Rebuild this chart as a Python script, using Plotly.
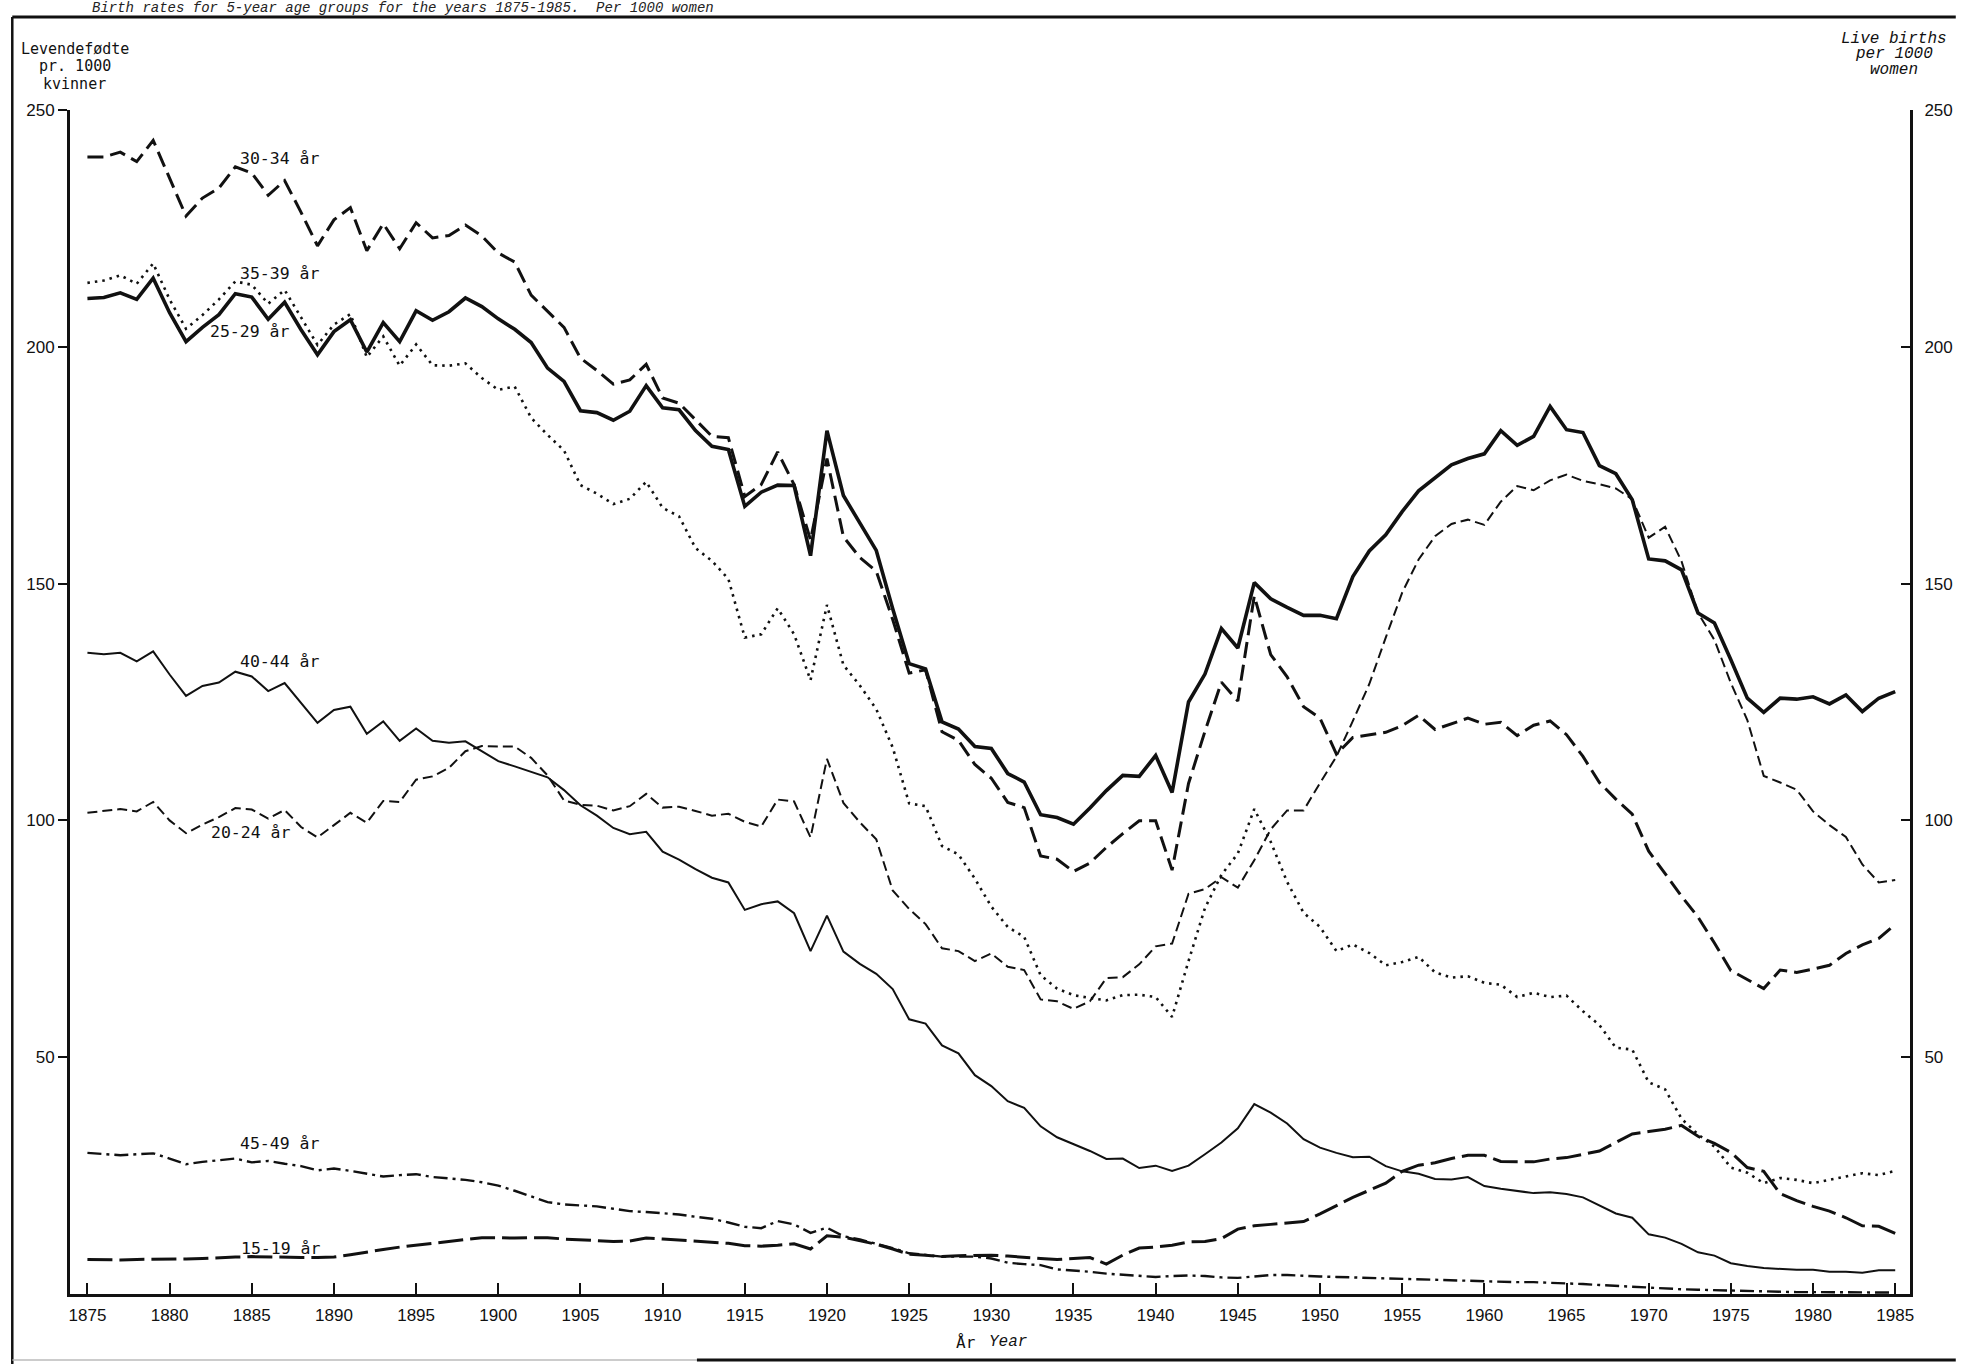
import plotly.graph_objects as go

years = list(range(1875, 1986))

age_25_29 = [210.2, 210.4, 211.4, 210.0, 214.5, 207.2, 201.1, 204.1, 206.8, 211.2,
             210.5, 205.8, 209.4, 203.6, 198.3, 203.2, 205.7, 198.9, 205.1, 201.1,
             207.6, 205.6, 207.4, 210.3, 208.5, 205.9, 203.7, 200.9, 195.5, 192.7,
             186.5, 186.1, 184.5, 186.4, 191.8, 187.1, 186.7, 182.3, 179.0, 178.3,
             166.3, 169.3, 170.8, 170.7, 155.9, 182.3, 168.6, 162.8, 157.0, 144.7,
             133.1, 132.0, 120.8, 119.3, 115.6, 115.2, 109.9, 108.1, 101.2, 100.6,
             99.2, 102.6, 106.3, 109.5, 109.3, 113.7, 105.9, 125.0, 130.9, 140.5,
             136.4, 150.2, 146.8, 145.0, 143.3, 143.3, 142.6, 151.5, 156.9, 160.3,
             165.2, 169.6, 172.3, 175.1, 176.4, 177.4, 182.3, 179.2, 181.1, 187.4,
             182.5, 181.9, 174.9, 173.2, 167.7, 155.2, 154.8, 152.9, 143.8, 141.7,
             133.9, 125.8, 122.8, 125.8, 125.6, 126.1, 124.6, 126.5, 123.0, 125.8,
             127.2]

age_30_34 = [240.1, 240.1, 241.1, 239.1, 243.6, 235.5, 227.6, 231.4, 233.5, 238.0,
             236.7, 232.0, 235.1, 228.4, 221.3, 226.8, 229.4, 220.3, 226.0, 220.7,
             226.2, 223.0, 223.5, 225.7, 223.4, 219.8, 217.9, 210.9, 207.5, 204.1,
             197.6, 195.0, 192.1, 193.0, 196.3, 189.2, 188.1, 184.6, 181.1, 180.8,
             168.4, 170.9, 177.8, 170.9, 159.2, 176.4, 159.9, 155.5, 152.6, 142.4,
             131.1, 131.8, 118.7, 116.9, 111.8, 108.9, 103.8, 102.7, 92.5, 91.8,
             89.2, 91.0, 94.3, 97.2, 99.9, 99.9, 89.5, 107.8, 118.8, 129.2,
             125.2, 147.4, 135.0, 130.3, 124.0, 121.6, 114.0, 117.5, 118.0, 118.6,
             120.0, 122.2, 119.2, 120.4, 121.6, 120.3, 120.7, 117.9, 120.1, 121.0,
             118.1, 113.5, 108.0, 104.5, 101.3, 93.5, 88.8, 84.0, 79.6, 74.1,
             68.3, 66.4, 64.5, 68.4, 67.9, 68.6, 69.4, 71.9, 73.7, 75.1,
             78.0]

age_35_39 = [213.5, 214.0, 215.1, 213.3, 217.6, 210.0, 203.8, 206.7, 210.0, 213.8,
             213.1, 209.1, 212.0, 206.2, 200.4, 204.7, 206.9, 197.8, 202.2, 196.0,
             200.5, 196.1, 196.0, 196.5, 193.4, 190.9, 191.6, 185.0, 181.4, 178.1,
             170.8, 169.0, 166.8, 167.9, 171.5, 166.0, 164.2, 157.5, 154.8, 151.0,
             138.6, 139.3, 144.8, 139.3, 129.6, 145.5, 132.8, 128.5, 123.5, 115.4,
             103.6, 103.0, 94.6, 92.8, 87.7, 81.8, 77.5, 75.4, 67.3, 64.5,
             63.1, 62.5, 62.0, 63.1, 63.2, 62.7, 58.5, 70.3, 81.5, 88.5,
             93.0, 102.4, 95.5, 87.0, 80.5, 77.5, 72.4, 73.8, 72.0, 69.4,
             70.1, 71.2, 67.9, 66.8, 67.1, 65.7, 65.3, 62.7, 63.6, 62.7,
             63.0, 59.7, 56.8, 52.0, 51.6, 44.7, 43.2, 37.0, 33.7, 31.1,
             26.7, 25.6, 23.4, 24.5, 24.1, 23.4, 24.1, 24.8, 25.5, 25.1,
             26.0]

age_40_44 = [135.4, 135.1, 135.4, 133.6, 135.7, 130.8, 126.3, 128.4, 129.1, 131.4,
             130.4, 127.3, 129.0, 124.7, 120.6, 123.3, 124.0, 118.3, 120.9, 116.8,
             119.4, 116.8, 116.4, 116.7, 114.6, 112.5, 111.4, 110.3, 109.1, 106.4,
             103.2, 101.0, 98.4, 97.1, 97.6, 93.4, 91.7, 89.7, 87.9, 86.9,
             81.1, 82.3, 82.9, 80.4, 72.4, 79.9, 72.3, 69.7, 67.6, 64.4,
             58.0, 57.1, 52.5, 50.8, 46.2, 43.9, 40.7, 39.3, 35.4, 33.1,
             31.7, 30.2, 28.5, 28.6, 26.6, 27.1, 26.0, 27.1, 29.5, 32.0,
             35.0, 40.1, 38.3, 36.0, 32.7, 30.9, 29.8, 28.9, 29.0, 27.0,
             25.9, 25.4, 24.3, 24.2, 24.7, 22.8, 22.2, 21.7, 21.3, 21.5,
             21.1, 20.4, 18.7, 17.0, 16.1, 12.6, 11.9, 10.6, 8.8, 8.1,
             6.5, 5.9, 5.5, 5.3, 5.1, 5.1, 4.7, 4.7, 4.5, 5.0,
             5.0]

age_20_24 = [101.6, 102.0, 102.4, 101.9, 103.9, 100.0, 97.3, 99.1, 100.7, 102.6,
             102.3, 100.4, 102.2, 98.6, 96.4, 99.0, 101.6, 99.5, 104.1, 103.9,
             108.6, 109.3, 111.1, 114.6, 115.7, 115.6, 115.6, 113.2, 109.5, 104.2,
             103.3, 103.1, 102.1, 103.0, 105.6, 102.7, 102.9, 102.0, 101.0, 101.4,
             99.7, 98.7, 104.4, 104.0, 96.4, 113.0, 103.7, 99.6, 96.0, 85.2,
             81.3, 78.1, 73.0, 72.4, 70.3, 71.9, 69.1, 68.4, 62.2, 61.8,
             60.2, 61.8, 66.7, 66.9, 69.6, 73.4, 74.0, 84.5, 85.5, 88.0,
             85.8, 91.6, 98.1, 102.1, 102.1, 107.9, 113.5, 121.0, 128.8, 138.6,
             148.1, 155.1, 160.0, 162.6, 163.5, 162.4, 167.3, 170.6, 169.7, 171.8,
             173.0, 171.7, 171.0, 170.1, 167.8, 159.7, 162.0, 154.7, 143.8, 138.1,
             129.0, 121.2, 109.4, 108.0, 106.5, 101.9, 99.0, 96.5, 90.7, 86.9,
             87.4]

age_45_49 = [29.8, 29.6, 29.3, 29.5, 29.7, 28.6, 27.4, 27.9, 28.2, 28.6,
             27.8, 28.1, 27.5, 27.0, 26.1, 26.5, 26.0, 25.4, 24.8, 25.1,
             25.3, 24.7, 24.4, 24.1, 23.6, 22.9, 21.8, 20.6, 19.4, 18.9,
             18.7, 18.5, 18.0, 17.5, 17.3, 17.1, 16.8, 16.3, 15.9, 15.1,
             14.2, 13.9, 15.4, 14.7, 12.9, 14.0, 12.2, 11.5, 10.6, 9.7,
             8.6, 8.3, 7.9, 7.9, 7.9, 7.5, 6.6, 6.3, 6.1, 5.2,
             5.0, 4.7, 4.3, 4.1, 3.8, 3.6, 3.8, 3.9, 3.8, 3.5,
             3.4, 3.7, 4.0, 4.0, 3.8, 3.7, 3.6, 3.5, 3.4, 3.3,
             3.1, 3.0, 2.9, 2.8, 2.8, 2.7, 2.6, 2.5, 2.5, 2.4,
             2.3, 2.1, 1.9, 1.7, 1.5, 1.3, 1.2, 1.0, 0.9, 0.8,
             0.7, 0.6, 0.5, 0.5, 0.4, 0.4, 0.4, 0.3, 0.3, 0.3,
             0.3]

age_15_19 = [7.3, 7.2, 7.2, 7.3, 7.3, 7.3, 7.4, 7.5, 7.7, 7.8,
             7.9, 7.8, 7.7, 7.7, 7.7, 7.8, 8.3, 8.9, 9.4, 9.9,
             10.3, 10.8, 11.2, 11.6, 11.9, 11.9, 11.8, 11.9, 11.9, 11.6,
             11.4, 11.3, 11.1, 11.2, 11.8, 11.6, 11.4, 11.2, 10.9, 10.7,
             10.2, 10.1, 10.3, 10.6, 9.5, 12.3, 12.0, 11.2, 10.5, 9.5,
             8.4, 8.2, 7.9, 8.1, 8.1, 8.2, 8.0, 7.7, 7.5, 7.3,
             7.5, 7.7, 6.3, 8.2, 9.7, 9.9, 10.3, 11.0, 11.1, 11.7,
             13.7, 14.4, 14.7, 15.0, 15.3, 16.9, 18.7, 20.4, 21.9, 23.4,
             25.9, 27.2, 27.7, 28.6, 29.3, 29.3, 28.0, 28.0, 27.9, 28.5,
             28.8, 29.5, 30.2, 32.0, 33.8, 34.3, 34.8, 35.6, 33.3, 31.8,
             29.9, 26.7, 25.9, 21.2, 19.7, 18.5, 17.5, 16.1, 14.4, 14.3,
             12.8]

series_labels = ["30-34 år", "35-39 år", "25-29 år", "40-44 år", "20-24 år", "45-49 år", "15-19 år"]
label_x = [1886.74, 1886.7, 1884.9, 1886.7, 1884.96, 1886.7, 1886.8]
label_y = [239.7, 215.5, 203.3, 133.6, 97.5, 31.7, 9.6]

x_ticks = list(range(1875, 1986, 5))
y_ticks = [50, 100, 150, 200, 250]

INK = "#111111"
W, H = 1965, 1364
L, R, T, B = 70, 46, 110, 70
PW, PH = W - L - R, H - T - B


def px(x):
    return (x - L) / PW


def py(y):
    return (H - B - y) / PH


styles = [
    (age_30_34, 3.0, "16px,7px"),
    (age_25_29, 3.6, "solid"),
    (age_35_39, 2.6, "2.5px,5px"),
    (age_40_44, 2.0, "solid"),
    (age_20_24, 2.0, "10px,5px"),
    (age_45_49, 2.4, "14px,5px,3px,5px"),
    (age_15_19, 3.0, "25px,7px"),
]

fig = go.Figure()
for vals, w, d in styles:
    fig.add_trace(go.Scatter(x=years, y=vals, mode="lines",
                             line=dict(color=INK, width=w, dash=d),
                             hoverinfo="skip", showlegend=False))
fig.add_trace(go.Scatter(x=[None], y=[None], yaxis="y2", mode="lines",
                         hoverinfo="skip", showlegend=False))

tick_font = dict(family="Liberation Sans, Arial, sans-serif", size=17, color=INK)
mono = "DejaVu Sans Mono, Liberation Mono, monospace"
mono_it = "Liberation Mono, Courier New, monospace"

fig.update_layout(
    width=W, height=H,
    margin=dict(l=L, r=R, t=T, b=B, pad=0),
    paper_bgcolor="white", plot_bgcolor="white",
    showlegend=False,
    xaxis=dict(range=[1873.94, 1985.9], tickvals=x_ticks, ticktext=[str(v) for v in x_ticks],
               ticks="inside", ticklen=11, tickwidth=2, tickcolor=INK,
               showline=True, linewidth=3, linecolor=INK, mirror=False,
               showgrid=False, zeroline=False, tickfont=tick_font, ticklabelstandoff=4),
    yaxis=dict(range=[0, 250], tickvals=y_ticks, ticktext=[str(v) for v in y_ticks],
               ticks="outside", ticklen=9, tickwidth=2, tickcolor=INK,
               showline=True, linewidth=3, linecolor=INK,
               showgrid=False, zeroline=False, tickfont=tick_font),
    yaxis2=dict(range=[0, 250], tickvals=y_ticks, ticktext=[str(v) for v in y_ticks],
                overlaying="y", side="right", anchor="x",
                ticks="inside", ticklen=9, tickwidth=2, tickcolor=INK,
                showline=True, linewidth=3, linecolor=INK,
                showgrid=False, zeroline=False, tickfont=tick_font, ticklabelstandoff=8),
)

# series labels
for txt, lx, ly in zip(series_labels, label_x, label_y):
    fig.add_annotation(x=lx, y=ly, xref="x", yref="y", text=txt, showarrow=False,
                       xanchor="center", yanchor="middle",
                       font=dict(family=mono, size=16.5, color=INK))

# left axis title
for txt, yy in [("Levendefødte", 49), ("pr. 1000", 66), ("kvinner", 84)]:
    fig.add_annotation(x=px(75), y=py(yy), xref="paper", yref="paper", text=txt,
                       showarrow=False, xanchor="center", yanchor="middle",
                       font=dict(family=mono, size=15, color=INK))

# right axis title
for txt, yy in [("<i>Live births</i>", 39), ("<i>per 1000</i>", 54), ("<i>women</i>", 70)]:
    fig.add_annotation(x=px(1903), y=py(yy), xref="paper", yref="paper", text=txt,
                       showarrow=False, xanchor="center", yanchor="middle",
                       font=dict(family=mono_it, size=16, color=INK))

# x axis title
fig.add_annotation(x=px(970), y=py(1342), xref="paper", yref="paper", text="År",
                   showarrow=False, xanchor="center", yanchor="middle",
                   font=dict(family=mono, size=16, color=INK))
fig.add_annotation(x=px(1013), y=py(1342), xref="paper", yref="paper", text="<i>Year</i>",
                   showarrow=False, xanchor="center", yanchor="middle",
                   font=dict(family=mono_it, size=16, color=INK))

# top caption (kept fully visible above the page frame)
fig.add_annotation(x=px(90), y=py(8), xref="paper", yref="paper",
                   text="<i>Birth rates for 5-year age groups for the years 1875-1985.  Per 1000 women</i>",
                   showarrow=False, xanchor="left", yanchor="middle",
                   font=dict(family=mono_it, size=14, color="#222222"))

# page frame
fig.add_shape(type="line", xref="paper", yref="paper", x0=px(12), x1=px(1965), y0=py(17), y1=py(17),
              line=dict(color=INK, width=3))
fig.add_shape(type="line", xref="paper", yref="paper", x0=px(12), x1=px(12), y0=py(17), y1=py(1364),
              line=dict(color=INK, width=2.5))
fig.add_shape(type="line", xref="paper", yref="paper", x0=px(12), x1=px(700), y0=py(1360), y1=py(1360),
              line=dict(color="#bbbbbb", width=1.5))
fig.add_shape(type="line", xref="paper", yref="paper", x0=px(700), x1=px(1965), y0=py(1360), y1=py(1360),
              line=dict(color=INK, width=3))

fig.write_html("out.html",
               config={"displayModeBar": False, "staticPlot": True},
               post_script="document.body.style.margin='0';document.body.style.overflow='hidden';")
